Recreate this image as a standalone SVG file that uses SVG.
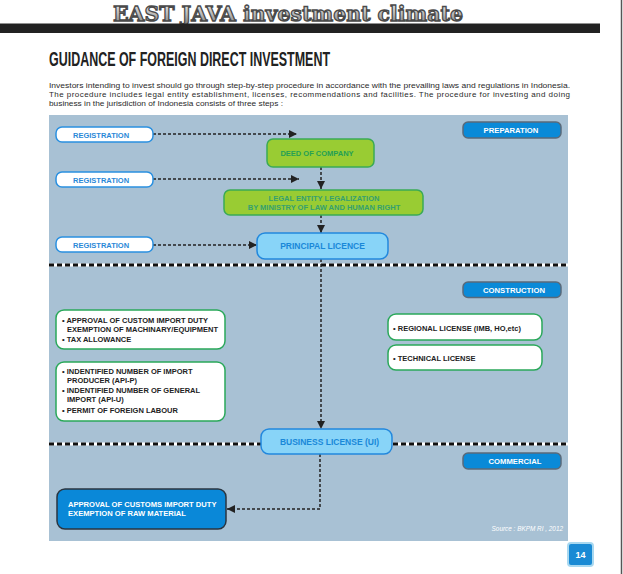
<svg xmlns="http://www.w3.org/2000/svg" width="623" height="574" viewBox="0 0 623 574">
<defs>
<linearGradient id="silver" x1="0" y1="0" x2="0" y2="1">
<stop offset="0" stop-color="#f4f4f4"/>
<stop offset="0.55" stop-color="#b8b8b8"/>
<stop offset="1" stop-color="#7a7a7a"/>
</linearGradient>
<marker id="arr" markerUnits="userSpaceOnUse" markerWidth="9" markerHeight="9" refX="8" refY="4" orient="auto">
<path d="M0,0 L8,4 L0,8 z" fill="#222"/>
</marker>
<style>
text{font-family:"Liberation Sans",Arial,sans-serif;}
.b{font-weight:bold;}
.reg{fill:#fff;stroke:#2a90e0;stroke-width:1.5;}
.regt{fill:#2a88d8;font-size:7.5px;font-weight:bold;}
.green{fill:#99cc33;stroke:#3aaa55;stroke-width:1.5;}
.greent{fill:#25a055;font-size:7.5px;font-weight:bold;text-anchor:middle;}
.lblue{fill:#88d4f8;stroke:#2288dd;stroke-width:1.5;}
.lbluet{fill:#1a88d8;font-size:8.5px;font-weight:bold;text-anchor:middle;}
.phase{fill:#0a8ad8;stroke:#5a6a7a;stroke-width:1.5;}
.phaset{fill:#fff;font-size:7.7px;font-weight:bold;text-anchor:middle;}
.wbox{fill:#fff;stroke:#2aa85a;stroke-width:1.5;}
.wt{fill:#222;font-size:7.5px;font-weight:bold;}
.conn{fill:none;stroke:#222;stroke-width:1.5;stroke-dasharray:3,2;}
.para{fill:#2a2a2a;font-size:8px;}
</style>
</defs>
<rect x="0" y="0" width="623" height="574" fill="#fff"/>
<line x1="621.5" y1="0" x2="621.5" y2="574" stroke="#555" stroke-width="1.5"/>

<!-- header -->
<g id="header">
<text x="113" y="20.5" font-weight="bold" font-size="21" fill="url(#silver)" stroke="#4a4a4a" stroke-width="1.3" textLength="350" lengthAdjust="spacingAndGlyphs" style="font-family:'DejaVu Serif',serif">EAST JAVA investment climate</text>
<rect x="0" y="23.5" width="600" height="9.5" fill="#222"/>
</g>

<g id="heading">
<text x="49" y="66" class="b" font-size="20" fill="#222" textLength="281" lengthAdjust="spacingAndGlyphs">GUIDANCE OF FOREIGN DIRECT INVESTMENT</text>
<text x="49" y="88" class="para" textLength="521" lengthAdjust="spacingAndGlyphs">Investors intending to invest should go through step-by-step procedure in accordance with the prevailing laws and regulations in Indonesia.</text>
<text x="49" y="97" class="para" textLength="521" lengthAdjust="spacing">The procedure includes legal entity establishment, licenses, recommendations and facilities. The procedure for investing and doing</text>
<text x="49" y="106" class="para" textLength="234" lengthAdjust="spacingAndGlyphs">business in the jurisdiction of Indonesia consists of three steps :</text>
</g>

<!-- panel -->
<rect id="panel" x="49" y="115" width="519" height="426" fill="#a8c1d4"/>
<g id="dividers">
<line x1="49" y1="265" x2="568" y2="265" stroke="#fff" stroke-width="3"/>
<line x1="49" y1="265" x2="568" y2="265" stroke="#111" stroke-width="3" stroke-dasharray="5,3"/>
<line x1="49" y1="444" x2="568" y2="444" stroke="#fff" stroke-width="3"/>
<line x1="49" y1="444" x2="568" y2="444" stroke="#111" stroke-width="3" stroke-dasharray="5,3"/>
</g>

<!-- connectors -->
<g id="connectors">
<line class="conn" x1="153" y1="134" x2="297" y2="134" marker-end="url(#arr)"/>
<line class="conn" x1="153" y1="179" x2="299" y2="179" marker-end="url(#arr)"/>
<line class="conn" x1="153" y1="245" x2="257" y2="245" marker-end="url(#arr)"/>
<line class="conn" x1="321" y1="167" x2="321" y2="189" marker-end="url(#arr)"/>
<line class="conn" x1="321" y1="215" x2="321" y2="233" marker-end="url(#arr)"/>
<line class="conn" x1="321" y1="259" x2="321" y2="429" marker-end="url(#arr)"/>
<polyline class="conn" points="320,454 320,509 227,509" marker-end="url(#arr)"/>
</g>

<!-- preparation -->
<g id="reg1"><rect class="reg" x="56" y="127" width="97" height="15" rx="6"/><text class="regt" x="73" y="137.5">REGISTRATION</text></g>
<g id="reg2"><rect class="reg" x="56" y="172" width="97" height="15" rx="6"/><text class="regt" x="73" y="182.5">REGISTRATION</text></g>
<g id="reg3"><rect class="reg" x="56" y="237" width="97" height="15" rx="6"/><text class="regt" x="73" y="247.5">REGISTRATION</text></g>

<g id="deed"><rect class="green" x="267" y="139" width="107" height="28" rx="6"/><text class="greent" x="317" y="156">DEED OF COMPANY</text></g>
<g id="legal"><rect class="green" x="224" y="190" width="199" height="25" rx="6"/>
<text class="greent" x="324" y="201" style="fill:#35a070">LEGAL ENTITY LEGALIZATION</text>
<text class="greent" x="324" y="210" style="fill:#35a070">BY MINISTRY OF LAW AND HUMAN RIGHT</text></g>
<g id="principal"><rect class="lblue" x="257" y="233" width="131" height="26" rx="8"/><text class="lbluet" x="322.5" y="249">PRINCIPAL LICENCE</text></g>

<g id="preparation"><rect class="phase" x="463" y="122" width="98" height="16" rx="5"/><text class="phaset" x="511" y="133">PREPARATION</text></g>

<!-- construction -->
<g id="construction"><rect class="phase" x="463" y="282" width="98" height="15.5" rx="5"/><text class="phaset" x="514" y="292.5">CONSTRUCTION</text></g>

<g id="facilities"><rect class="wbox" x="56" y="310" width="169" height="39" rx="8"/>
<text class="wt" x="62" y="323">• APPROVAL OF CUSTOM IMPORT DUTY</text>
<text class="wt" x="67" y="332">EXEMPTION OF MACHINARY/EQUIPMENT</text>
<text class="wt" x="62" y="342">• TAX ALLOWANCE</text></g>

<g id="identified"><rect class="wbox" x="56" y="362" width="169" height="59" rx="8"/>
<text class="wt" x="62" y="374">• INDENTIFIED NUMBER OF IMPORT</text>
<text class="wt" x="67" y="382.5">PRODUCER (API-P)</text>
<text class="wt" x="62" y="393">• INDENTIFIED NUMBER OF GENERAL</text>
<text class="wt" x="67" y="401.5">IMPORT (API-U)</text>
<text class="wt" x="62" y="413">• PERMIT OF FOREIGN LABOUR</text></g>

<g id="regional"><rect class="wbox" x="388" y="314" width="154" height="26" rx="8"/><text class="wt" x="393" y="331">• REGIONAL LICENSE (IMB, HO,etc)</text></g>
<g id="technical"><rect class="wbox" x="388" y="345" width="154" height="25" rx="8"/><text class="wt" x="393" y="361">• TECHNICAL LICENSE</text></g>

<g id="business"><rect class="lblue" x="261" y="429" width="131" height="25" rx="8"/><text class="lbluet" x="329.5" y="445">BUSINESS LICENSE (UI)</text></g>

<!-- commercial -->
<g id="commercial"><rect class="phase" x="463" y="453" width="98" height="16" rx="5"/><text class="phaset" x="515" y="464">COMMERCIAL</text></g>

<g id="customs"><rect x="57" y="489" width="169" height="40" rx="8" fill="#0a88d8" stroke="#2a3540" stroke-width="1.5"/>
<text x="68" y="507" class="b" font-size="7.6" fill="#fff">APPROVAL OF CUSTOMS IMPORT DUTY</text>
<text x="68" y="516" class="b" font-size="7.6" fill="#fff">EXEMPTION OF RAW MATERIAL</text></g>

<text x="563" y="531" font-size="6.4" font-style="italic" fill="#fff" text-anchor="end">Source : BKPM RI , 2012</text>

<g id="page"><rect x="568" y="543" width="25" height="23" rx="3" fill="#1a8ad4" stroke="#a8d8f0" stroke-width="2"/>
<text x="580.5" y="558" class="b" font-size="9" fill="#fff" text-anchor="middle">14</text></g>
</svg>
